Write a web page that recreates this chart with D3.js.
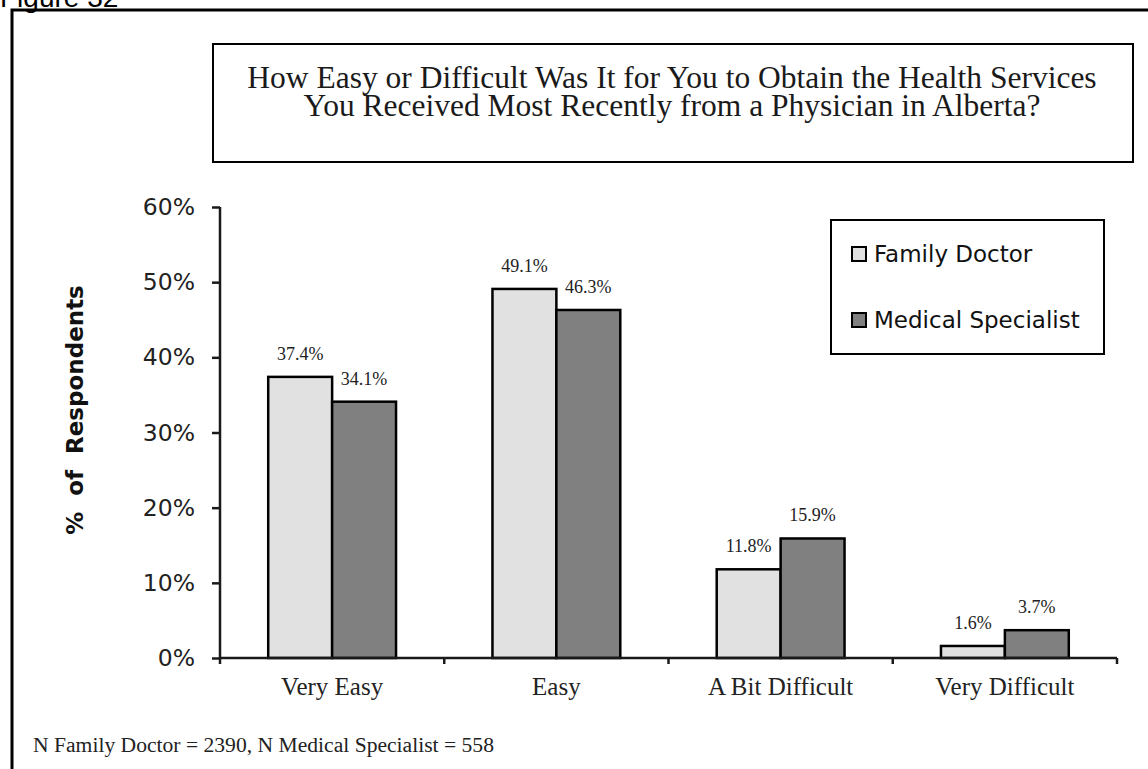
<!DOCTYPE html>
<html>
<head>
<meta charset="utf-8">
<script src="https://cdn.jsdelivr.net/npm/d3@7"></script>
<style>
  html, body { margin: 0; padding: 0; background: #fff; overflow: hidden; }
  svg { display: block; }
</style>
</head>
<body>
<svg id="chart" width="1148" height="769"></svg>
<script>
// Survey responses: ease of obtaining physician services (Alberta)
const categories = ["Very Easy", "Easy", "A Bit Difficult", "Very Difficult"];
const seriesNames = ["Family Doctor", "Medical Specialist"];
const familyDoctor = [37.4, 49.1, 11.8, 1.6];
const medicalSpecialist = [34.1, 46.3, 15.9, 3.7];
const yTicks = [0, 10, 20, 30, 40, 50, 60];
const titleLines = [
  "How Easy or Difficult Was It for You to Obtain the Health Services",
  "You Received Most Recently from a Physician in Alberta?"
];
const footnote = "N Family Doctor = 2390, N Medical Specialist = 558";

const seriesValues = [familyDoctor, medicalSpecialist];
const fills = ["#e1e1e1", "#808080"];
const serif = "'Liberation Serif', 'Times New Roman', serif";
const sans = "'DejaVu Sans', Verdana, sans-serif";

const svg = d3.select("#chart");

// Figure caption, partly cut by the top of the page
svg.append("text")
  .attr("x", 0).attr("y", 7)
  .attr("font-family", "'Liberation Sans', Arial, sans-serif")
  .attr("font-size", 28)
  .attr("fill", "#000")
  .text("Figure 32");

// Outer frame (runs off the right and bottom edges)
svg.append("path")
  .attr("d", "M12,780 L12,10 L1160,10")
  .attr("fill", "none").attr("stroke", "#000").attr("stroke-width", 3);

// Title box
svg.append("rect")
  .attr("x", 213).attr("y", 44).attr("width", 920).attr("height", 118)
  .attr("fill", "#fff").attr("stroke", "#000").attr("stroke-width", 2);
svg.append("g").selectAll("text").data(titleLines).join("text")
  .attr("x", 672).attr("y", (d, i) => 88 + i * 28)
  .attr("text-anchor", "middle")
  .attr("font-family", serif).attr("font-size", 31.5).attr("fill", "#1a1a1a")
  .text(d => d);

// Scales
const x0 = d3.scaleBand().domain(categories).range([220, 1117])
  .paddingInner(0.43).paddingOuter(0.215);
const x1 = d3.scaleBand().domain(seriesNames).range([0, x0.bandwidth()]);
const y = d3.scaleLinear().domain([0, 60]).range([658, 207]);

// Y axis
const yAxis = svg.append("g").attr("transform", "translate(220,0)")
  .call(d3.axisLeft(y).tickValues(yTicks).tickFormat(d => d + "%").tickSize(8).tickPadding(17));
yAxis.select(".domain").attr("stroke", "#1a1a1a").attr("stroke-width", 2.5).attr("d", "M0,207V658");
yAxis.selectAll(".tick line").attr("stroke", "#1a1a1a").attr("stroke-width", 2.5);
yAxis.selectAll(".tick text").attr("font-family", sans).attr("font-size", 23.5).attr("fill", "#222");

// Y axis title
svg.append("text")
  .attr("transform", "translate(83,410) rotate(-90)")
  .attr("text-anchor", "middle")
  .attr("font-family", sans).attr("font-weight", "bold").attr("font-size", 23)
  .attr("word-spacing", 8)
  .attr("fill", "#111")
  .text("% of Respondents");

// Bars
const groups = svg.append("g").selectAll("g").data(categories).join("g")
  .attr("transform", c => `translate(${x0(c)},0)`);
groups.selectAll("rect")
  .data((c, ci) => seriesNames.map((s, si) => ({ s, si, v: seriesValues[si][ci] })))
  .join("rect")
  .attr("x", d => x1(d.s))
  .attr("y", d => y(d.v))
  .attr("width", x1.bandwidth())
  .attr("height", d => y(0) - y(d.v))
  .attr("fill", d => fills[d.si])
  .attr("stroke", "#000").attr("stroke-width", 2.5);

// Value labels
groups.selectAll("text")
  .data((c, ci) => seriesNames.map((s, si) => ({ s, si, v: seriesValues[si][ci] })))
  .join("text")
  .attr("x", d => x1(d.s) + x1.bandwidth() / 2)
  .attr("y", d => y(d.v) - 17)
  .attr("text-anchor", "middle")
  .attr("font-family", serif).attr("font-size", 18).attr("fill", "#222")
  .text(d => d.v.toFixed(1) + "%");

// X axis with ticks between categories
const xAxis = svg.append("g").attr("transform", "translate(0,658)");
xAxis.append("line").attr("x1", 220).attr("x2", 1117)
  .attr("stroke", "#1a1a1a").attr("stroke-width", 2.5);
const boundaries = categories.map((c, i) => 220 + i * x0.step());
boundaries.push(1117);
xAxis.selectAll(".bt").data(boundaries).join("line")
  .attr("x1", d => d).attr("x2", d => d).attr("y1", 0).attr("y2", 6)
  .attr("stroke", "#1a1a1a").attr("stroke-width", 2.5);
xAxis.selectAll(".cl").data(categories).join("text")
  .attr("x", c => x0(c) + x0.bandwidth() / 2)
  .attr("y", 37)
  .attr("text-anchor", "middle")
  .attr("font-family", serif).attr("font-size", 25).attr("fill", "#222")
  .text(c => c);

// Legend
const legend = svg.append("g");
legend.append("rect")
  .attr("x", 831).attr("y", 220).attr("width", 273).attr("height", 134)
  .attr("fill", "#fff").attr("stroke", "#000").attr("stroke-width", 2);
const items = legend.selectAll("g").data(seriesNames).join("g")
  .attr("transform", (d, i) => `translate(852,${247 + i * 66})`);
items.append("rect")
  .attr("width", 14).attr("height", 14)
  .attr("fill", (d, i) => fills[i]).attr("stroke", "#000").attr("stroke-width", 2);
items.append("text")
  .attr("x", 22).attr("y", 15)
  .attr("font-family", sans).attr("font-size", 23).attr("fill", "#111")
  .text(d => d);

// Sample sizes
svg.append("text")
  .attr("x", 33).attr("y", 752)
  .attr("font-family", serif).attr("font-size", 21.6).attr("fill", "#222")
  .text(footnote);
</script>
</body>
</html>
